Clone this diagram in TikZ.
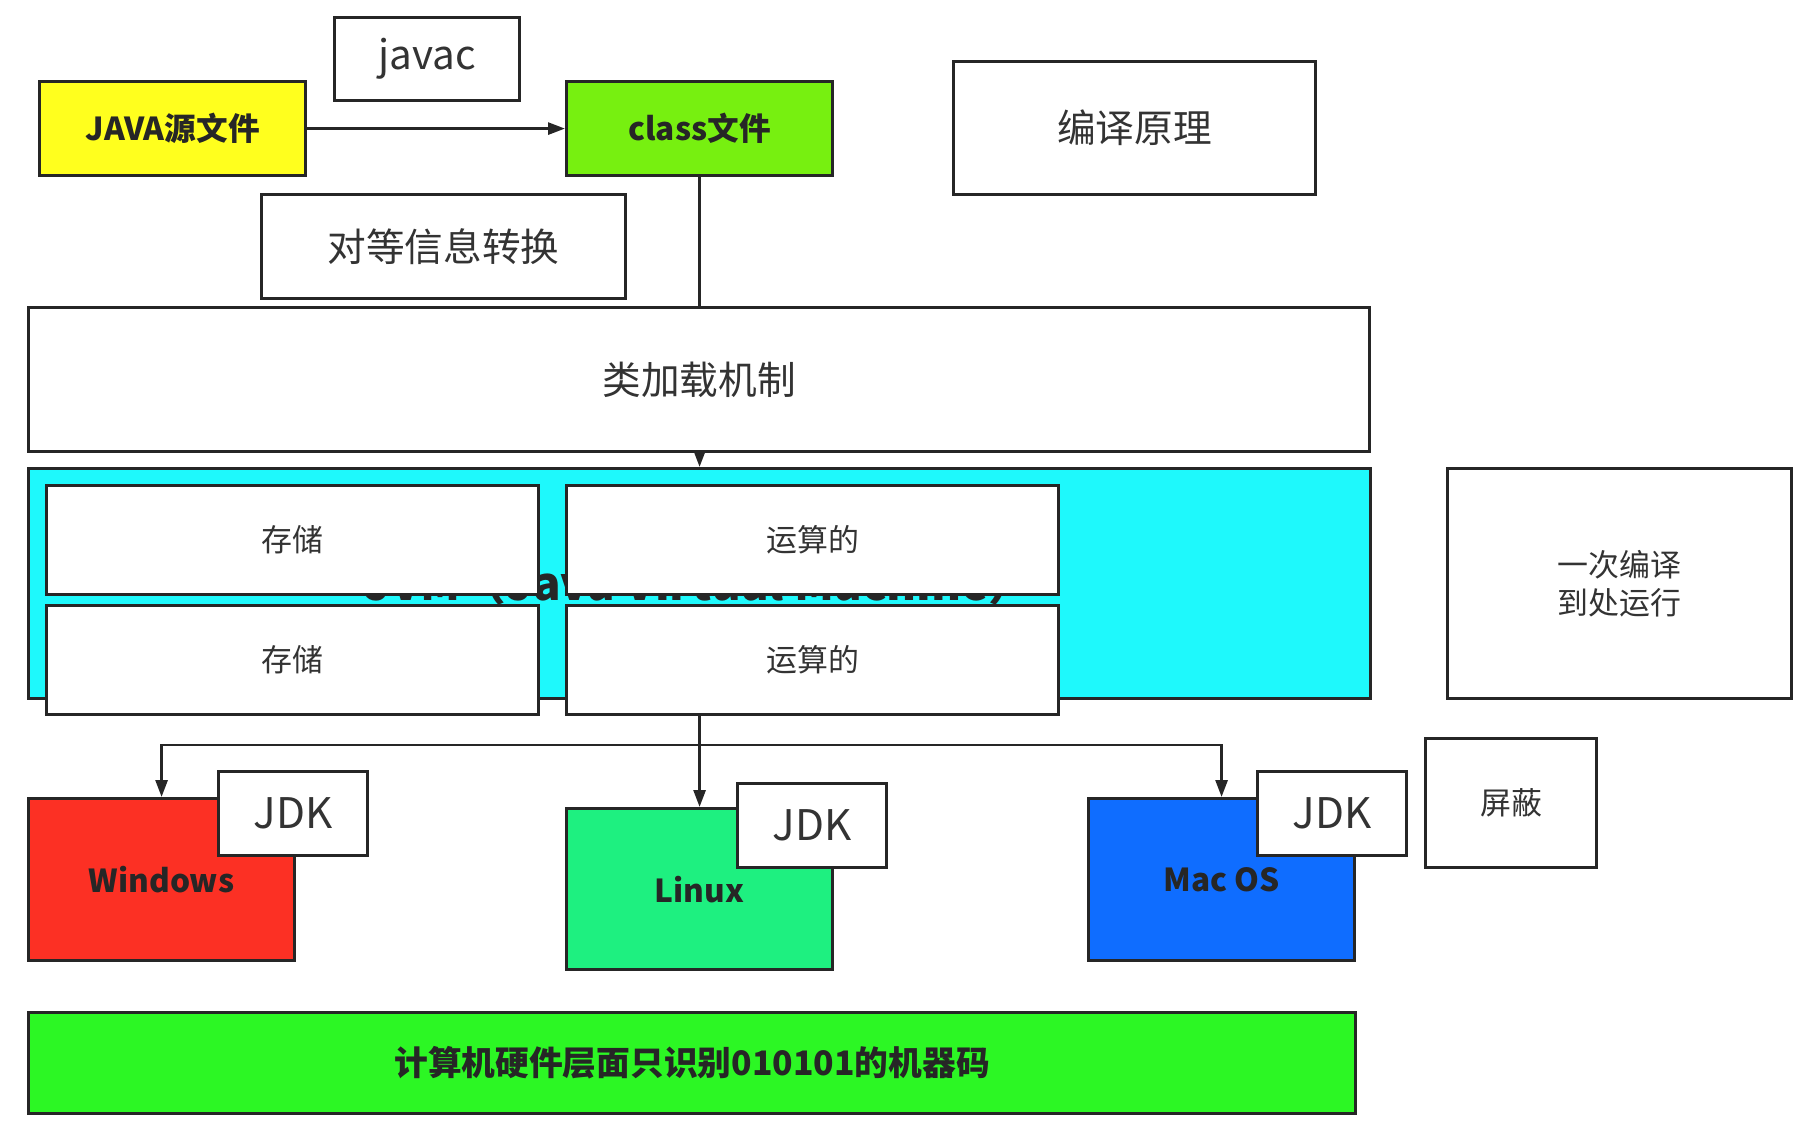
\documentclass[tikz,border=0pt]{standalone}
\usepackage{fontspec}
\setmainfont{Noto Sans CJK SC}
\usetikzlibrary{arrows.meta}

\pgfdeclarelayer{background}
\pgfsetlayers{background,main}

% fill colours
\definecolor{srcyellow}{HTML}{FFFF1E}
\definecolor{classgreen}{HTML}{77F010}
\definecolor{jvmcyan}{HTML}{1EF9FC}
\definecolor{winred}{HTML}{FC3024}
\definecolor{linuxgreen}{HTML}{1EF080}
\definecolor{macblue}{HTML}{0F6DFF}
\definecolor{hwgreen}{HTML}{2CF724}
\definecolor{inkgray}{HTML}{333333}

\begin{document}
\begin{tikzpicture}[
    % --- Styles ---
    box/.style={draw=black!85, line width=0.9pt, fill=white, inner sep=0pt,
        anchor=north west, text=inkgray},
    % plain white boxes with a remark in them
    note box/.style={box, font=\fontsize{11pt}{13pt}\selectfont},
    small box/.style={box, font=\fontsize{8.8pt}{11pt}\selectfont, align=center},
    % coloured boxes carry bold text
    fill box/.style={box, fill=#1, text=black!85, font=\bfseries\fontsize{9pt}{11pt}\selectfont},
    jdk box/.style={box, minimum width=1.49cm, minimum height=0.84cm,
        font=\fontsize{12pt}{14pt}\selectfont},
    os box/.style={fill box=#1, minimum width=2.66cm, minimum height=1.62cm},
    connector line/.style={draw=black!85, line width=0.8pt},
    arrow line/.style={connector line, -{Triangle[length=1.7mm, width=1.2mm]}}
]

%================CONFIGURATION================
% \cellw, \cellh: the four cells inside the JVM box
\def\cellw{4.92}
\def\cellh{1.09}
% \branchy: height of the line that splits to the three systems
\def\branchy{-7.45}
%=============================================

\useasboundingbox (0,0) rectangle (18.12,-11.40);

% --- 1. Compile row ---
\node[note box, minimum width=1.85cm, minimum height=0.83cm,
    font=\fontsize{11.5pt}{13pt}\selectfont] (javac) at (3.33,-0.16) {javac};
\node[fill box=srcyellow, minimum width=2.66cm, minimum height=0.94cm] (src) at (0.38,-0.80) {JAVA源文件};
\node[fill box=classgreen, minimum width=2.66cm, minimum height=0.94cm] (class) at (5.65,-0.80) {class文件};
\node[note box, minimum width=3.62cm, minimum height=1.33cm] (theory) at (9.52,-0.60) {编译原理};
\node[note box, minimum width=3.64cm, minimum height=1.04cm] (convert) at (2.60,-1.93) {对等信息转换};

% --- 2. Loading and the JVM ---
\node[note box, minimum width=13.41cm, minimum height=1.44cm] (load) at (0.27,-3.06) {类加载机制};
\node[box, fill=jvmcyan, text=black!85, minimum width=13.42cm, minimum height=2.30cm,
    font=\bfseries\fontsize{13pt}{15pt}\selectfont] (jvm) at (0.27,-4.67) {JVM（Java Virtual Machine）};

\node[small box, minimum width=\cellw cm, minimum height=\cellh cm] (store1) at (0.45,-4.84) {存储};
\node[small box, minimum width=\cellw cm, minimum height=\cellh cm] (calc1) at (5.65,-4.84) {运算的};
\node[small box, minimum width=\cellw cm, minimum height=\cellh cm] (store2) at (0.45,-6.04) {存储};
\node[small box, minimum width=\cellw cm, minimum height=\cellh cm] (calc2) at (5.65,-6.04) {运算的};

\node[small box, minimum width=3.44cm, minimum height=2.30cm] (once) at (14.46,-4.67) {一次编译\\到处运行};

% --- 3. Operating systems ---
\node[os box=winred] (win) at (0.27,-7.97) {Windows};
\node[jdk box] (jdk1) at (2.17,-7.70) {JDK};
\node[os box=linuxgreen, minimum height=1.61cm] (linux) at (5.65,-8.07) {Linux};
\node[jdk box] (jdk2) at (7.36,-7.82) {JDK};
\node[os box=macblue] (mac) at (10.87,-7.97) {Mac OS};
\node[jdk box] (jdk3) at (12.56,-7.70) {JDK};
\node[small box, minimum width=1.71cm, minimum height=1.29cm] (shield) at (14.24,-7.37) {屏蔽};

% --- 4. Hardware ---
\node[fill box=hwgreen, minimum width=13.27cm, minimum height=1.01cm,
    font=\bfseries\fontsize{9.6pt}{12pt}\selectfont] (hw) at (0.27,-10.11) {计算机硬件层面只识别010101的机器码};

% --- 5. Connectors (behind the boxes) ---
\coordinate (split) at (jvm.south |- 0,\branchy);
\begin{pgfonlayer}{background}
    \draw[arrow line] (src) -- (class);
    \draw[arrow line] (class.south) -- (jvm.north);
    \draw[arrow line] (jvm.south) -- (linux.north);
    \draw[arrow line] (split) -| (win.north);
    \draw[arrow line] (split) -| (mac.north);
\end{pgfonlayer}

\end{tikzpicture}
\end{document}
